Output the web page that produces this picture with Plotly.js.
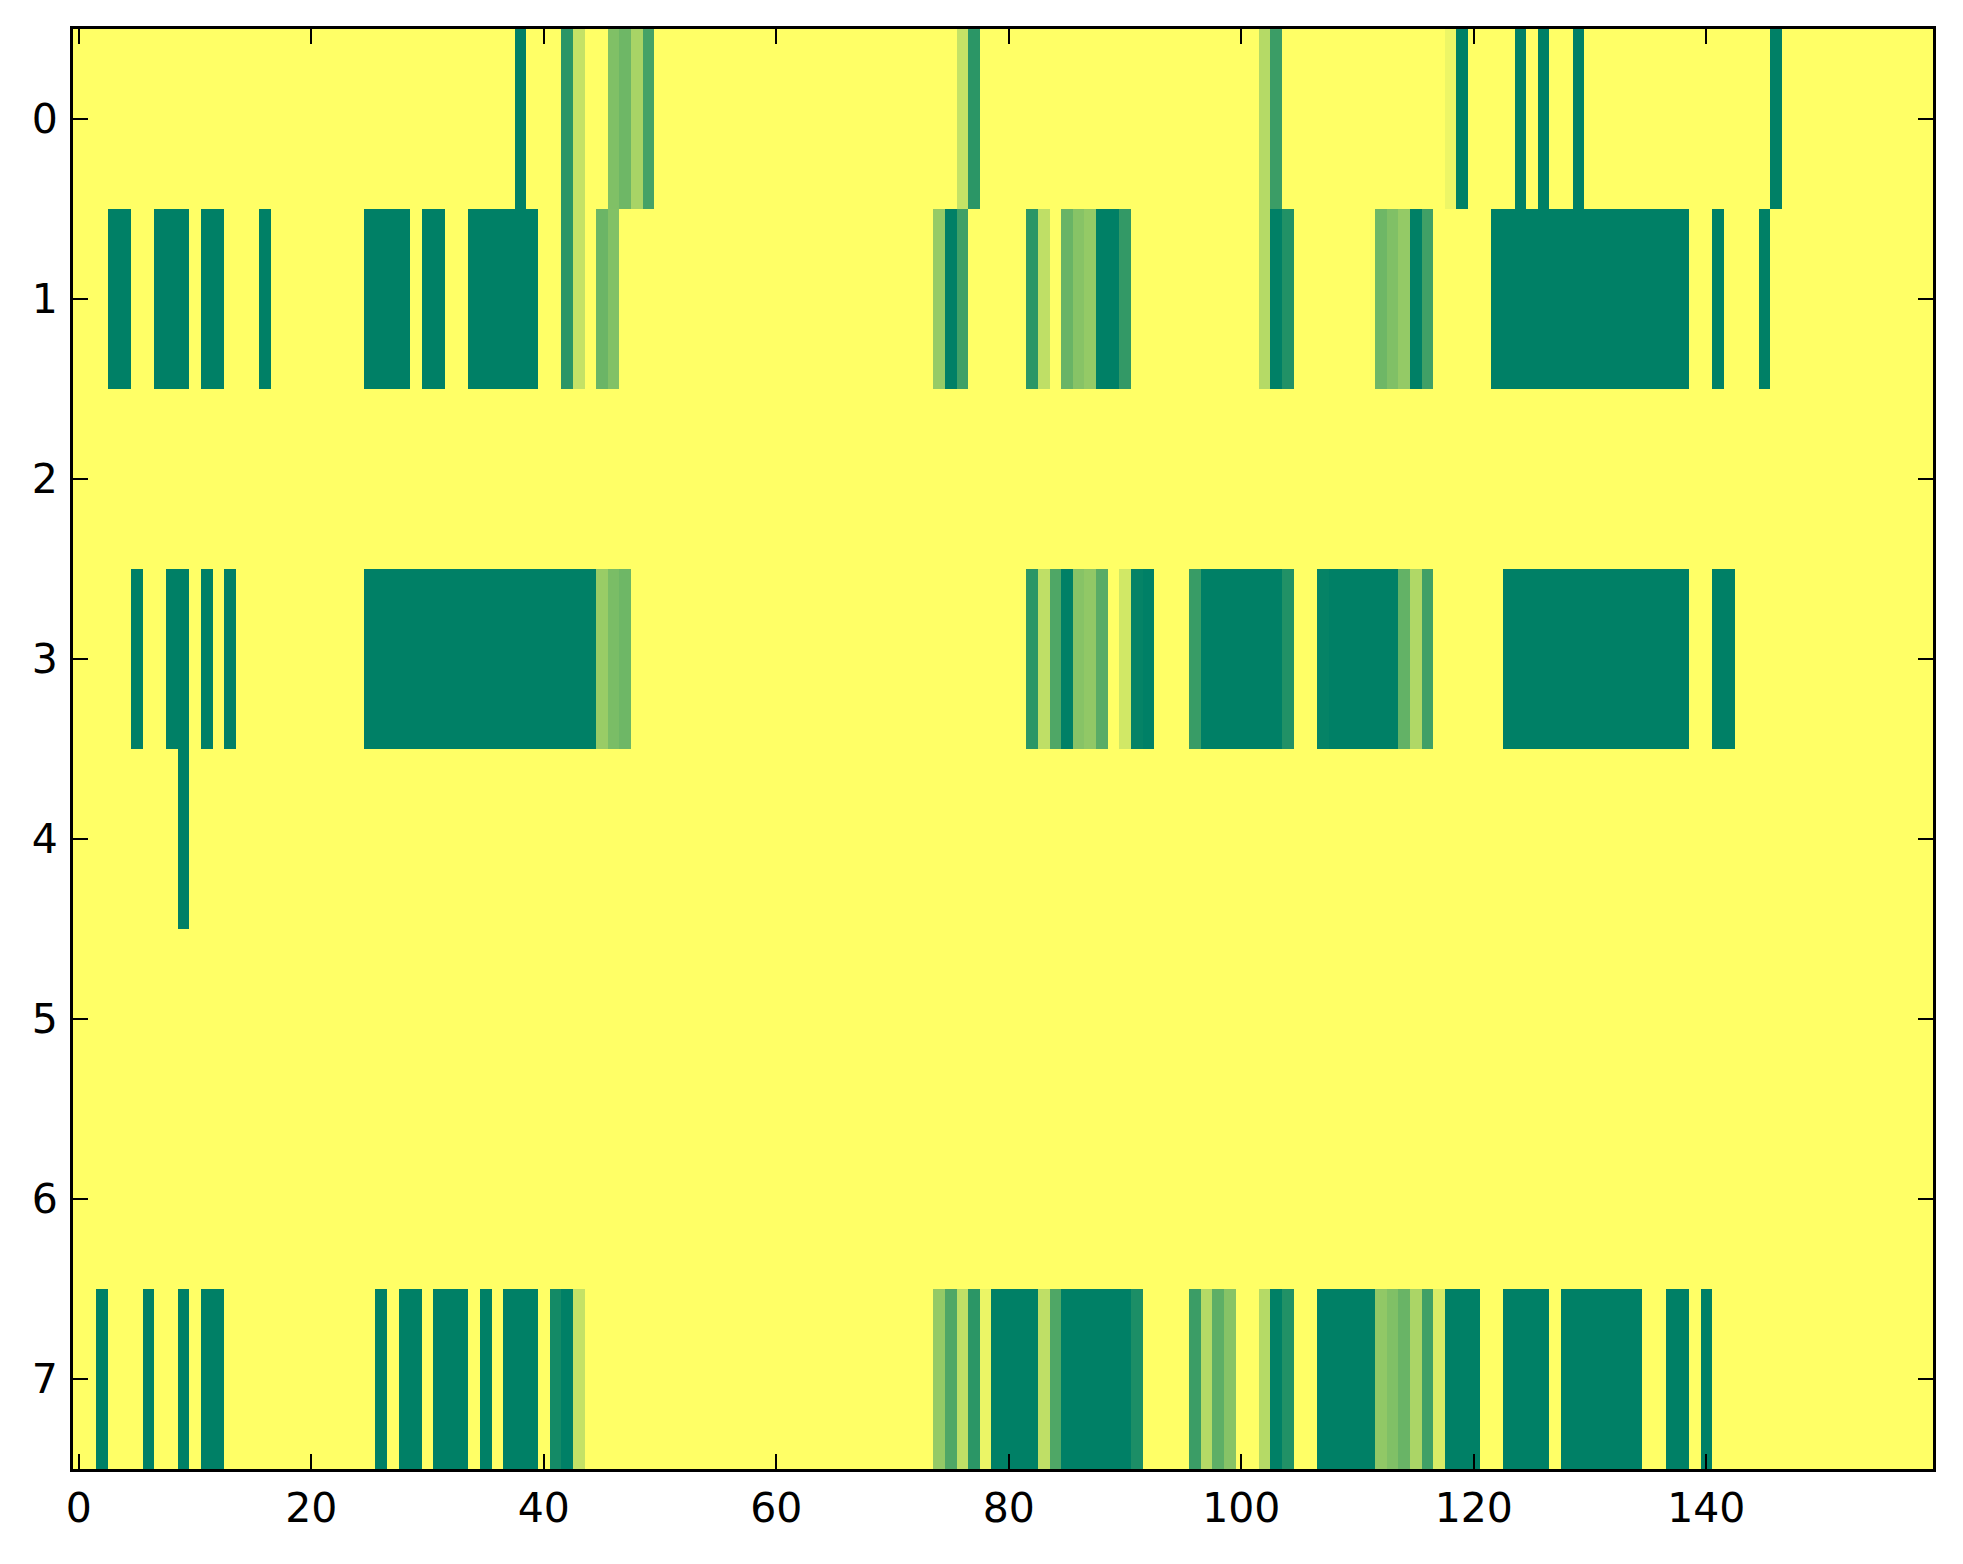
<!DOCTYPE html>
<html>
<head>
<meta charset="utf-8">
<script src="https://cdn.plot.ly/plotly-3.0.1.min.js"></script>
<style>
  html, body { margin: 0; padding: 0; background: #ffffff; }
  #chart { width: 1963px; height: 1564px; }
</style>
</head>
<body>
<div id="chart"></div>
<script>
// Column indices (0..159) and row indices (0..7)
var columns = [];
for (var i = 0; i < 160; i++) columns.push(i);
var rowLabels = [0, 1, 2, 3, 4, 5, 6, 7];

// Cell values per row (0 = yellow, 1 = dark green), 160 columns each
var row0 = [
  0,0,0,0,0,0,0,0,0,0,  0,0,0,0,0,0,0,0,0,0,  0,0,0,0,0,0,0,0,0,0,  0,0,0,0,0,0,0,0,1,0,
  0,0,.83,.23,0,0,.5,.57,.34,.73,  0,0,0,0,0,0,0,0,0,0,  0,0,0,0,0,0,0,0,0,0,  0,0,0,0,0,0,.23,.83,0,0,
  0,0,0,0,0,0,0,0,0,0,  0,0,0,0,0,0,0,0,0,0,  0,0,.29,.77,0,0,0,0,0,0,  0,0,0,0,0,0,0,0,.07,1,
  0,0,0,0,1,0,1,0,0,1,  0,0,0,0,0,0,0,0,0,0,  0,0,0,0,0,0,1,0,0,0,  0,0,0,0,0,0,0,0,0,0
];
var row1 = [
  0,0,0,1,1,0,0,1,1,1,  0,1,1,0,0,0,1,0,0,0,  0,0,0,0,0,1,1,1,1,0,  1,1,0,0,1,1,1,1,1,1,
  0,0,.83,.23,0,.58,.49,0,0,0,  0,0,0,0,0,0,0,0,0,0,  0,0,0,0,0,0,0,0,0,0,  0,0,0,0,.41,1,.75,0,0,0,
  0,0,.83,.25,0,.59,.47,.42,1,1,  .8,0,0,0,0,0,0,0,0,0,  0,0,.29,1,.87,0,0,0,0,0,  0,0,.57,.5,.42,1,.75,0,0,0,
  0,0,1,1,1,1,1,1,1,1,  1,1,1,1,1,1,1,1,1,0,  0,1,0,0,0,1,0,0,0,0,  0,0,0,0,0,0,0,0,0,0
];
var row2 = [
  0,0,0,0,0,0,0,0,0,0,  0,0,0,0,0,0,0,0,0,0,  0,0,0,0,0,0,0,0,0,0,  0,0,0,0,0,0,0,0,0,0,
  0,0,0,0,0,0,0,0,0,0,  0,0,0,0,0,0,0,0,0,0,  0,0,0,0,0,0,0,0,0,0,  0,0,0,0,0,0,0,0,0,0,
  0,0,0,0,0,0,0,0,0,0,  0,0,0,0,0,0,0,0,0,0,  0,0,0,0,0,0,0,0,0,0,  0,0,0,0,0,0,0,0,0,0,
  0,0,0,0,0,0,0,0,0,0,  0,0,0,0,0,0,0,0,0,0,  0,0,0,0,0,0,0,0,0,0,  0,0,0,0,0,0,0,0,0,0
];
var row3 = [
  0,0,0,0,0,1,0,0,1,1,  0,1,0,1,0,0,0,0,0,0,  0,0,0,0,0,1,1,1,1,1,  1,1,1,1,1,1,1,1,1,1,
  1,1,1,1,1,.40,.52,.57,0,0,  0,0,0,0,0,0,0,0,0,0,  0,0,0,0,0,0,0,0,0,0,  0,0,0,0,0,0,0,0,0,0,
  0,0,.83,.25,.69,1,.47,.43,.65,0,  .18,.98,1,0,0,0,.78,1,1,1,  1,1,1,1,.87,0,0,.98,1,1,  1,1,1,1,.61,.31,.75,0,0,0,
  0,0,0,1,1,1,1,1,1,1,  1,1,1,1,1,1,1,1,1,0,  0,1,1,0,0,0,0,0,0,0,  0,0,0,0,0,0,0,0,0,0
];
var row4 = [
  0,0,0,0,0,0,0,0,0,1,  0,0,0,0,0,0,0,0,0,0,  0,0,0,0,0,0,0,0,0,0,  0,0,0,0,0,0,0,0,0,0,
  0,0,0,0,0,0,0,0,0,0,  0,0,0,0,0,0,0,0,0,0,  0,0,0,0,0,0,0,0,0,0,  0,0,0,0,0,0,0,0,0,0,
  0,0,0,0,0,0,0,0,0,0,  0,0,0,0,0,0,0,0,0,0,  0,0,0,0,0,0,0,0,0,0,  0,0,0,0,0,0,0,0,0,0,
  0,0,0,0,0,0,0,0,0,0,  0,0,0,0,0,0,0,0,0,0,  0,0,0,0,0,0,0,0,0,0,  0,0,0,0,0,0,0,0,0,0
];
var row5 = row2.slice();
var row6 = row2.slice();
var row7 = [
  0,0,1,0,0,0,1,0,0,1,  0,1,1,0,0,0,0,0,0,0,  0,0,0,0,0,0,1,0,1,1,  0,1,1,1,0,1,0,1,1,1,
  0,.92,1,.23,0,0,0,0,0,0,  0,0,0,0,0,0,0,0,0,0,  0,0,0,0,0,0,0,0,0,0,  0,0,0,0,.42,.69,.25,.83,.08,1,
  1,1,1,.25,.69,1,1,1,1,1,  1,.89,0,0,0,0,.77,.29,.63,.47,  0,0,.29,1,.87,0,0,1,1,1,  1,1,.43,.5,.59,.33,.75,.15,1,1,
  1,0,0,1,1,1,1,0,1,1,  1,1,1,1,1,0,0,1,1,0,  1,0,0,0,0,0,0,0,0,0,  0,0,0,0,0,0,0,0,0,0
];

var xTickVals = [0, 20, 40, 60, 80, 100, 120, 140];
var yTickVals = [0, 1, 2, 3, 4, 5, 6, 7];

var z = [row0, row1, row2, row3, row4, row5, row6, row7];

var trace = {
  type: 'heatmap',
  x: columns,
  y: rowLabels,
  z: z,
  zmin: 0,
  zmax: 1,
  colorscale: [[0, '#ffff66'], [1, '#008066']],
  showscale: false,
  hoverinfo: 'skip'
};

var axisCommon = {
  showline: true,
  linecolor: '#000000',
  linewidth: 3,
  mirror: 'allticks',
  ticks: 'inside',
  ticklen: 15,
  tickwidth: 2,
  tickcolor: '#000000',
  showgrid: false,
  zeroline: false,
  tickfont: { family: 'DejaVu Sans', size: 41, color: '#000000' }
};

var layout = {
  width: 1963,
  height: 1564,
  paper_bgcolor: '#ffffff',
  plot_bgcolor: '#ffff66',
  margin: { l: 73, r: 30, t: 29, b: 95, pad: 0 },
  showlegend: false,
  xaxis: Object.assign({}, axisCommon, {
    range: [-0.5, 159.5],
    tickmode: 'array',
    tickvals: xTickVals,
    ticktext: xTickVals.map(String),
    ticklabelstandoff: 1
  }),
  yaxis: Object.assign({}, axisCommon, {
    range: [7.5, -0.5],
    tickmode: 'array',
    tickvals: yTickVals,
    ticktext: yTickVals.map(String),
    ticklabelstandoff: 4
  })
};

Plotly.newPlot('chart', [trace], layout, { displayModeBar: false, staticPlot: true });
</script>
</body>
</html>
